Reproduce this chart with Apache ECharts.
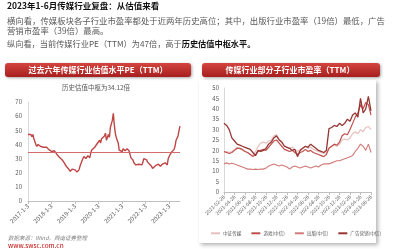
<!DOCTYPE html>
<html><head><meta charset="utf-8">
<script src="https://cdn.jsdelivr.net/npm/echarts@6/dist/echarts.min.js"></script>
<style>html,body{margin:0;padding:0;background:#fff}#c{width:400px;height:249px}</style>
</head><body><div id="c"></div>
<script>
// ---- data ----
const peTickLabels = ['2017-1-3','2018-1-3','2019-1-3','2020-1-3','2021-1-3','2022-1-3','2023-1-3'];
const peValues = [
 47,46,46.5,47,45.5,47,44,42,40,38.5,40,39,40,38.5,39.5,39,38,38.5,37.5,38,37,36.5,37.5,36,
 35,35.5,34,35.5,34.5,35,32.5,32,31,31.5,30,29,28.5,27,26,24.5,24,23,22.5,21,21,22.5,22,23,
 22,21,20.5,20,22,24.5,26.5,27,30,31.5,31,30,31,32,31,30.5,34,36,35.5,37,38,37.5,39,41,
 42,43,41,44,45,43,46,48,43,44,47,45,52,53,57,62,54,48,45,43,41,36,37,36.5,
 35,37,36,35.5,36,37,36,35.5,33,30.5,29.5,29,27,26,25.5,26,25.5,26,26.5,27,25.5,27,30,31,
 31,29,27.5,28,26,25,24.5,23,22,24,25,26,25.5,26,25,24.5,25.5,26,25,26.5,27,26,25.5,30,
 31,33,34,35,36,36.5,39,43,44,46,50,53
];
const peMedian = 34.12;

const subNames = ['中证传媒','游戏(中信)','出版(中信)','广告营销(中信)'];
const subCsi = [19,19.5,19,19.5,20.5,21.5,21,20,19.5,19,18,17.5,19.5,22,23.5,24,23.5,24.5,25,27,27.5,25.5,24,22.5,21.5,21,21.5,20.5,19.5,20.5,21,22,21,21.5,20.5,20,19.5,19,18.5,19,21,22,22.5,22,23,25,25.5,25,26,28,29,28,30,29,31,31.5,30];
const subGame = [19.5,19,18.5,19,20,21,21,20.5,19.5,19,18,17,18,19.5,20,20.5,20,21.5,23,24.5,25,23.5,22,20.5,20,19.5,20,19,18,19,19.5,20.5,19.5,20,19,18.5,18,17.5,17,18,21,22,23,22.5,24,27,28,27.5,30,33,36,38,42,40,43,42,37];
const subPub = [13.5,14,13.5,13.8,13.5,13,12.5,12,11.5,11,11,10.8,11,10.8,11,11,11.5,12.5,13,13.5,13,12.5,13,12.5,12,11,12,12.5,12,11.5,12,12.5,12,11.5,12,12.5,12,13,13.5,13.5,13.5,14,14.5,15,15,15.5,16,16.5,17,17.5,19.5,21,23,22,20,23,19];
const subAd = [33,32,30,26,24.5,23,22.5,22,21.5,21,20.5,19,17.5,20,19.5,20,21,23,24,26,27,25,24,22,21.5,21,20,20.5,17,20,21,22,21.5,23,22,21,20,19.5,19,20,30.5,31,32,31.5,33,32,33,35,34,37,38,36,45,38,40,46,39];

// ---- categories (half-monthly dates) ----
const peDates = [];
for (let i = 0; i < peValues.length; i++) {
  const y = 2017 + Math.floor(i / 24), m = Math.floor((i % 24) / 2) + 1, d = i % 2 === 0 ? 3 : 18;
  peDates.push(y + '-' + m + '-' + d);
}
const subDates = [];
for (let i = 0; i < subAd.length; i++) {
  let mi = 1 + Math.floor(i / 2) + (i % 2);
  const y = 2021 + Math.floor(mi / 12), m = mi % 12 + 1, d = i % 2 === 0 ? 26 : 11;
  subDates.push(y + '-' + String(m).padStart(2, '0') + '-' + String(d).padStart(2, '0'));
}

const FONT = '"Noto Sans CJK SC", "Noto Sans", sans-serif';
const chart = echarts.init(document.getElementById('c'), null, {renderer: 'canvas'});

const barFill = new echarts.graphic.LinearGradient(0, 0, 0, 1, [
  {offset: 0, color: '#d4463f'}, {offset: 1, color: '#a61e1e'}
]);

chart.setOption({
  animation: false,
  backgroundColor: '#fff',
  textStyle: {fontFamily: FONT},
  grid: [
    {left: 28, top: 102, width: 152, height: 99, containLabel: false},
    {left: 224, top: 88, width: 147, height: 104, containLabel: false}
  ],
  xAxis: [
    {gridIndex: 0, type: 'category', data: peDates, boundaryGap: false,
     axisLine: {lineStyle: {color: '#bfbfbf', width: 1}},
     axisTick: {show: true, length: 3, interval: (i) => i % 24 === 0, lineStyle: {color: '#bfbfbf'}},
     axisLabel: {interval: (i) => i % 24 === 0, rotate: 45, fontSize: 6, color: '#595959', margin: 4, fontFamily: FONT}},
    {gridIndex: 1, type: 'category', data: subDates, boundaryGap: false,
     axisLine: {lineStyle: {color: '#bfbfbf', width: 1}},
     axisTick: {show: true, length: 3, interval: (i) => i % 4 === 0, lineStyle: {color: '#bfbfbf'}},
     axisLabel: {interval: (i) => i % 4 === 0, rotate: 45, fontSize: 5, color: '#595959', margin: 4, fontFamily: FONT}}
  ],
  yAxis: [
    {gridIndex: 0, type: 'value', min: 0, max: 70, interval: 10,
     axisLine: {show: true, lineStyle: {color: '#d9d9d9'}}, axisTick: {show: false},
     splitLine: {show: false},
     axisLabel: {fontSize: 6, color: '#595959', margin: 6, fontFamily: FONT}},
    {gridIndex: 1, type: 'value', min: 0, max: 50, interval: 5,
     axisLine: {show: true, lineStyle: {color: '#d9d9d9'}}, axisTick: {show: false},
     splitLine: {show: false},
     axisLabel: {fontSize: 6, color: '#595959', margin: 5, fontFamily: FONT}}
  ],
  legend: {
    data: subNames, left: 206, top: 226, width: 190, itemWidth: 9, itemHeight: 2, itemGap: 10,
    icon: 'rect', textStyle: {fontSize: 4.6, color: '#595959', fontFamily: FONT, padding: [0, 0, 0, -2]}
  },
  series: [
    {type: 'line', xAxisIndex: 0, yAxisIndex: 0, data: peValues, showSymbol: false, symbol: 'none',
     lineStyle: {color: '#bf4644', width: 1.4}, itemStyle: {color: '#bf4644'},
     markLine: {silent: true, symbol: 'none', label: {show: false},
       lineStyle: {color: '#d26b69', width: 1.2, type: 'solid'}, data: [{yAxis: peMedian}]}},
    {name: subNames[0], type: 'line', xAxisIndex: 1, yAxisIndex: 1, data: subCsi, showSymbol: false, symbol: 'none',
     lineStyle: {color: '#e8c0bf', width: 1.2}, itemStyle: {color: '#e8c0bf'}},
    {name: subNames[2], type: 'line', xAxisIndex: 1, yAxisIndex: 1, data: subPub, showSymbol: false, symbol: 'none',
     lineStyle: {color: '#d27a78', width: 1.1}, itemStyle: {color: '#d27a78'}},
    {name: subNames[1], type: 'line', xAxisIndex: 1, yAxisIndex: 1, data: subGame, showSymbol: false, symbol: 'none',
     lineStyle: {color: '#c0504d', width: 1.2}, itemStyle: {color: '#c0504d'}},
    {name: subNames[3], type: 'line', xAxisIndex: 1, yAxisIndex: 1, data: subAd, showSymbol: false, symbol: 'none',
     lineStyle: {color: '#963634', width: 1.3}, itemStyle: {color: '#963634'}}
  ],
  graphic: [
    {type: 'rect', z: -10, shape: {x: 199, y: 80, width: 177, height: 163},
     style: {fill: '#fff', shadowBlur: 4, shadowColor: 'rgba(0,0,0,0.3)', shadowOffsetX: 2, shadowOffsetY: 2}},
    {type: 'text', left: 7, top: 2, style: {text: '2023年1-6月传媒行业复盘：从估值来看', font: 'bold 8.5px ' + FONT, fill: '#111'}},
    {type: 'text', left: 7, top: 17, style: {text: '横向看，传媒板块各子行业市盈率都处于近两年历史高位；其中，出版行业市盈率（19倍）最低，广告', font: '8.4px ' + FONT, fill: '#595959'}},
    {type: 'text', left: 7, top: 27, style: {text: '营销市盈率（39倍）最高。', font: '8.4px ' + FONT, fill: '#595959'}},
    {type: 'text', left: 7, top: 40, style: {
      text: '{a|纵向看，当前传媒行业PE（TTM）为47倍，高于}{b|历史估值中枢水平。}',
      rich: {a: {font: '8.2px ' + FONT, fill: '#595959'}, b: {font: 'bold 8.2px ' + FONT, fill: '#111'}}}},
    {type: 'rect', shape: {x: 5, y: 63, width: 186, height: 14, r: 3},
     style: {fill: barFill, shadowBlur: 3, shadowColor: 'rgba(0,0,0,0.35)', shadowOffsetX: 1, shadowOffsetY: 1}},
    {type: 'text', x: 98, y: 70, style: {text: '过去六年传媒行业估值水平PE（TTM）', font: 'bold 8px ' + FONT, fill: '#fff', align: 'center', verticalAlign: 'middle'}},
    {type: 'rect', shape: {x: 202, y: 63, width: 178, height: 14, r: 3},
     style: {fill: barFill, shadowBlur: 3, shadowColor: 'rgba(0,0,0,0.35)', shadowOffsetX: 1, shadowOffsetY: 1}},
    {type: 'text', x: 290, y: 70, style: {text: '传媒行业部分子行业市盈率（TTM）', font: 'bold 8px ' + FONT, fill: '#fff', align: 'center', verticalAlign: 'middle'}},
    {type: 'text', x: 96, y: 88, style: {text: '历史估值中枢为34.12倍', font: '6.5px ' + FONT, fill: '#595959', align: 'center', verticalAlign: 'middle'}},
    {type: 'text', left: 8, top: 235, style: {text: '数据来源：Wind，西南证券整理', font: 'italic 5.5px ' + FONT, fill: '#7f7f7f'}},
    {type: 'text', left: 8, top: 242, style: {text: 'www.swsc.com.cn', font: '6.5px ' + FONT, fill: '#c00000'}}
  ]
});
</script></body></html>
